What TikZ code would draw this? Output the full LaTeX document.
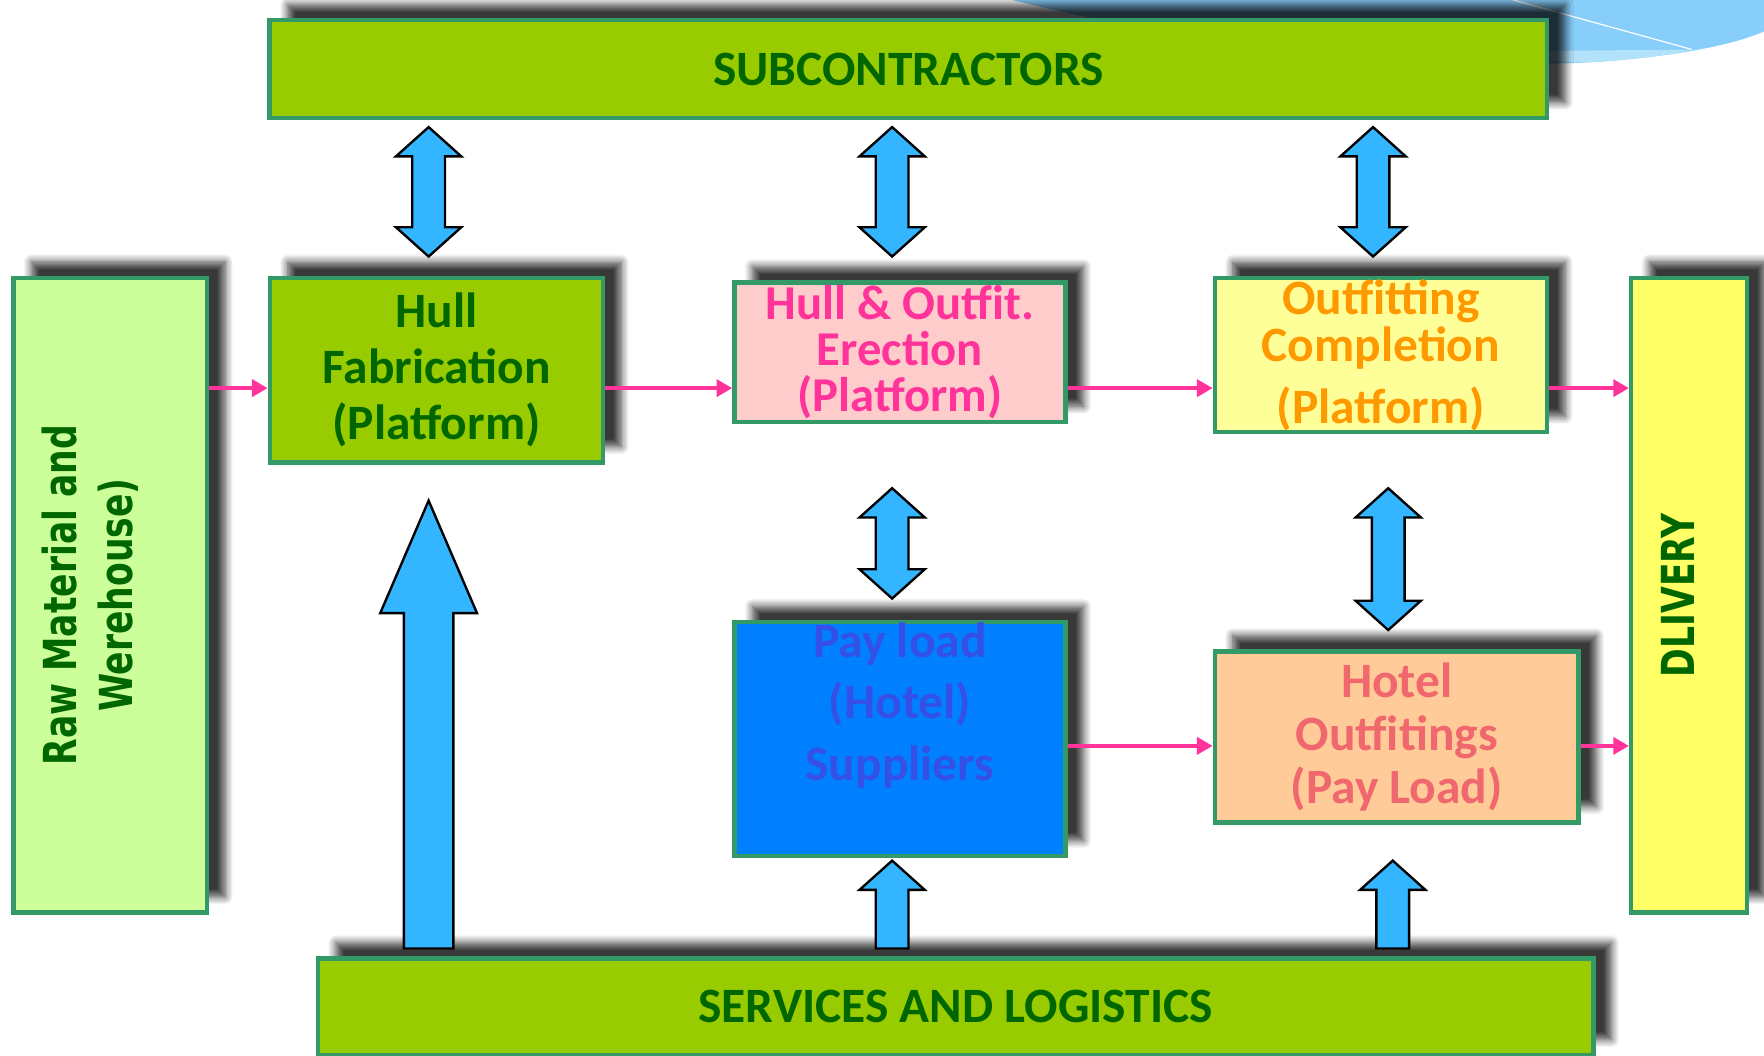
\documentclass[tikz,border=0pt]{standalone}
\usepackage{fontspec}
\setmainfont{Carlito}
\newfontfamily\sidefont[FakeStretch=0.76]{DejaVu Sans}
\usepackage{xcolor}
\definecolor{yardGreen}{HTML}{99CC00}
\definecolor{yardBorder}{HTML}{339966}
\definecolor{yardDark}{HTML}{006600}
\definecolor{rawFill}{HTML}{CCFF99}
\definecolor{erectFill}{HTML}{FFCCCC}
\definecolor{erectText}{HTML}{FF3399}
\definecolor{outfitFill}{HTML}{FFFF99}
\definecolor{outfitText}{HTML}{FF9900}
\definecolor{dliveryFill}{HTML}{FFFF66}
\definecolor{payFill}{HTML}{0080FF}
\definecolor{payText}{HTML}{3550E6}
\definecolor{hotelFill}{HTML}{FFCC99}
\definecolor{hotelText}{HTML}{F0686E}
\definecolor{arrowBlue}{HTML}{33B5FF}
\definecolor{flowPink}{HTML}{FF3399}
\definecolor{skyLight}{HTML}{87CEFA}
\definecolor{skyPale}{HTML}{B3E2FB}
\usepackage{tikz}
\usetikzlibrary{arrows.meta,calc,shadows,shadows.blur}
\tikzset{
    stage/.style={
        draw=yardBorder,
        rectangle,
        line width=1.1pt,
        align=center,
        inner sep=0pt,
        blur shadow={shadow xshift=0.16cm, shadow yshift=0.14cm,
            shadow opacity=78, shadow blur radius=0.07cm, shadow blur steps=8},
        font=\bfseries\fontsize{12.5}{14.2}\selectfont
    },
    bar/.style={
        stage,
        fill=yardGreen,
        text=yardDark
    },
    boxtext/.style={
        align=center,
        font=\bfseries\fontsize{12.5}{15.6}\selectfont
    },
    sidetext/.style={
        rotate=90,
        align=center,
        text=yardDark,
        font=\sidefont\bfseries\fontsize{11.5}{14.2}\selectfont
    },
    flow/.style={
        -{Triangle[length=0.14cm, width=0.15cm]},
        line width=1.05pt,
        color=flowPink
    },
    blockarrow/.style={
        draw=black,
        fill=arrowBlue,
        line width=0.6pt,
        line join=miter
    },
    % two-headed block arrow, top point to bottom point
    twoway/.style={blockarrow, to path={
        let \p1=(\tikztostart), \p2=(\tikztotarget) in
        (\x1,\y1) -- (\x1+0.29cm,\y1-0.26cm) -- (\x1+0.145cm,\y1-0.26cm)
        -- (\x1+0.145cm,\y2+0.26cm) -- (\x1+0.29cm,\y2+0.26cm) -- (\x1,\y2)
        -- (\x1-0.29cm,\y2+0.26cm) -- (\x1-0.145cm,\y2+0.26cm)
        -- (\x1-0.145cm,\y1-0.26cm) -- (\x1-0.29cm,\y1-0.26cm) -- cycle}},
    % one-headed block arrow, foot point up to tip
    upward/.style n args={3}{blockarrow, to path={
        let \p1=(\tikztostart), \p2=(\tikztotarget) in
        (\x2,\y2) -- (\x2+#1,\y2-#3) -- (\x2+#2,\y2-#3) -- (\x2+#2,\y1)
        -- (\x2-#2,\y1) -- (\x2-#2,\y2-#3) -- (\x2-#1,\y2-#3) -- cycle}}
}
\begin{document}
\begin{tikzpicture}[x=0.01cm, y=-0.01cm]
    \useasboundingbox (0,0) rectangle (1568,938);

    % Sky swoosh in the corner
    \fill[skyLight] (900,0) .. controls (1100,50) and (1300,62) .. (1420,55)
        .. controls (1490,50) and (1540,40) .. (1568,28) -- (1568,0) -- cycle;
    \fill[skyPale] (1300,46) .. controls (1360,54) and (1400,56) .. (1420,55)
        .. controls (1460,52) and (1490,48) .. (1504,44) -- cycle;
    \draw[white, line width=0.3pt] (1345,0) -- (1504,44);

    % Top and bottom bars
    \node[bar, minimum width=11.35cm, minimum height=0.87cm] (sub) at (807.5,61.5) {SUBCONTRACTORS};
    \node[bar, minimum width=11.33cm, minimum height=0.86cm] (serv) at (849.5,895) {SERVICES AND LOGISTICS};

    % Side columns
    \node[stage, fill=rawFill, minimum width=1.72cm, minimum height=5.64cm,
        label={[xshift=-0.18cm, sidetext]center:{Raw Material and\\Werehouse)}}] (raw) at (98,529) {};
    \node[stage, fill=dliveryFill, minimum width=1.03cm, minimum height=5.64cm,
        label={[xshift=-0.1cm, sidetext]center:DLIVERY}] (dlivery) at (1501.5,529) {};

    % Platform stages
    \node[stage, fill=yardGreen, text=yardDark, minimum width=2.96cm, minimum height=1.64cm]
        (hull) at (388,329) {Hull\\Fabrication\\(Platform)};
    \node[stage, fill=erectFill, text=erectText, minimum width=2.94cm, minimum height=1.24cm,
        font=\bfseries\fontsize{12.3}{11.6}\selectfont]
        (erect) at (800,313) {Hull \& Outfit.\\Erection\\(Platform)};
    \node[stage, fill=outfitFill, text=outfitText, minimum width=2.95cm, minimum height=1.37cm,
        font=\bfseries\fontsize{12.5}{10}\selectfont]
        (outfit) at (1227.5,315.5) {Outfitting\\Completion\\[0.12cm](Platform)};

    % Pay load stages
    \node[stage, fill=payFill, minimum width=2.94cm, minimum height=2.08cm,
        label={[boxtext, text=payText, yshift=0.3cm]center:{Pay load\\(Hotel)\\Suppliers}}]
        (pay) at (800,657) {};
    \node[stage, fill=hotelFill, text=hotelText, minimum width=3.23cm, minimum height=1.52cm,
        font=\bfseries\fontsize{12.5}{13.4}\selectfont]
        (hotel) at (1241.5,655) {Hotel\\Outfitings\\(Pay Load)};

    % Flow arrows
    \coordinate (upperflow) at (0,345);
    \coordinate (lowerflow) at (0,663);
    \draw[flow] (raw.east |- upperflow) -- (hull.west |- upperflow);
    \draw[flow] (hull.east |- upperflow) -- (erect.west |- upperflow);
    \draw[flow] (erect.east |- upperflow) -- (outfit.west |- upperflow);
    \draw[flow] (outfit.east |- upperflow) -- (dlivery.west |- upperflow);
    \draw[flow] (pay.east |- lowerflow) -- (hotel.west |- lowerflow);
    \draw[flow] (hotel.east |- lowerflow) -- (dlivery.west |- lowerflow);

    % Subcontractors to the stages
    \draw[twoway] ($(sub.south -| hull.north)+(-7,6)$) to ($(hull.north)+(-7,-17)$);
    \draw[twoway] ($(sub.south -| erect.north)+(-7,6)$) to ($(erect.north)+(-7,-21)$);
    \draw[twoway] ($(sub.south -| outfit.north)+(-7,6)$) to ($(outfit.north)+(-7,-17)$);

    % Between the rows
    \draw[twoway] ($(erect.south)+(-7,57)$) to ($(pay.north)+(-7,-19)$);
    \draw[twoway] ($(outfit.south)+(6.5,48)$) to ($(hotel.north)+(-7.5,-17)$);

    % Services up to the stages
    \draw[upward={0.43cm}{0.22cm}{1cm}] ($(serv.north -| hull.south)+(-7,-7)$) to ($(hull.south)+(-7,32)$);
    \draw[upward={0.29cm}{0.145cm}{0.26cm}] ($(serv.north -| pay.south)+(-7,-7)$) to ($(pay.south)+(-7,2)$);
    \draw[upward={0.29cm}{0.145cm}{0.26cm}] ($(serv.north -| hotel.south)+(-3.5,-7)$) to ($(hotel.south)+(-3.5,32)$);
\end{tikzpicture}
\end{document}
